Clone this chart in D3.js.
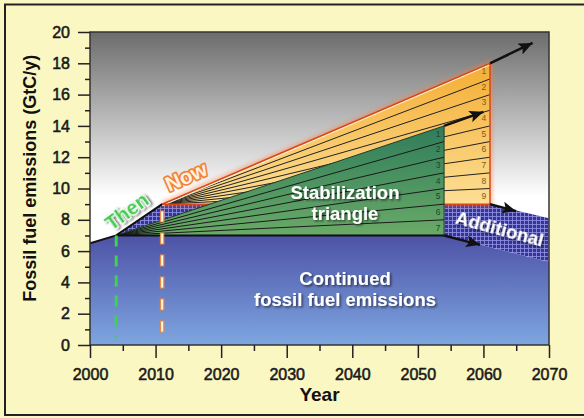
<!DOCTYPE html>
<html>
<head>
<meta charset="utf-8">
<script src="https://cdn.jsdelivr.net/npm/d3@7"></script>
<style>
  body { margin: 0; background: #fbf7c2; }
  svg { display: block; font-family: "Liberation Sans", Arial, Helvetica, sans-serif; }
</style>
</head>
<body>
<div id="chart"></div>
<script>
// values (GtC per year)
const xTicks = [2000, 2010, 2020, 2030, 2040, 2050, 2060, 2070];
const yTicks = [0, 2, 4, 6, 8, 10, 12, 14, 16, 18, 20];
const thenYear = 2004;
const nowYear = 2011;
const history = [[2000, 6.5], [2004, 7.0], [2011, 9.0]];
const continued = [[2004, 7.0], [2054, 7.0], [2070, 5.3]];
const stabilizationTop = [[2004, 7.0], [2054, 14.0]];
const businessAsUsual = [[2011, 9.0], [2061, 18.0]];
const additionalTop = [[2061, 9.0], [2070, 8.1]];
const greenBreaks = [8, 9, 10, 11, 12, 13];          // wedge edges at 2054
const yellowBreaks = [10, 11, 12, 13, 14, 15, 16, 17]; // wedge edges at 2061
const greenLabels = ["1", "2", "3", "4", "5", "6", "7"];
const yellowLabels = ["1", "2", "3", "4", "5", "6", "7", "8", "9"];
const arrows = [
  [[2061, 18.0], [2067.5, 19.3]],
  [[2054, 14.0], [2060, 14.9]],
  [[2061, 9.0], [2065, 8.55]],
  [[2054, 7.0], [2059.5, 6.4]]
];

const W = 584, H = 418;
const margin = { top: 32, right: 35, bottom: 73, left: 90 };

const svg = d3.select('#chart').append('svg')
  .attr('width', W)
  .attr('height', H);

const x = d3.scaleLinear().domain([2000, 2070]).range([margin.left, W - margin.right]);
const y = d3.scaleLinear().domain([0, 20]).range([H - margin.bottom, margin.top]);
const line = d3.line().x(d => x(d[0])).y(d => y(d[1]));

const defs = svg.append('defs');

function vGrad(id, y1, y2, c1, c2) {
  const g = defs.append('linearGradient').attr('id', id)
    .attr('gradientUnits', 'userSpaceOnUse')
    .attr('x1', 0).attr('x2', 0).attr('y1', y1).attr('y2', y2);
  g.append('stop').attr('offset', 0).attr('stop-color', c1);
  g.append('stop').attr('offset', 1).attr('stop-color', c2);
}
vGrad('skyGrad', y(20), y(9.5), '#6c6c6c', '#ffffff');
vGrad('blueGrad', y(7), y(0), '#4d52a6', '#7ea6e1');
vGrad('greenGrad', y(14), y(7), '#2f7c5a', '#6aaa68');
vGrad('yellowGrad', y(18), y(9), '#f4ad33', '#fddf95');

const hatch = defs.append('pattern').attr('id', 'hatch')
  .attr('patternUnits', 'userSpaceOnUse')
  .attr('width', 4).attr('height', 4);
hatch.append('rect').attr('width', 4).attr('height', 4).attr('fill', '#34349a');
hatch.append('path').attr('d', 'M0,0.5H4M0.5,0V4')
  .attr('stroke', '#9494e4').attr('stroke-width', 0.8);

const shadow = defs.append('filter').attr('id', 'shadow')
  .attr('x', '-20%').attr('y', '-20%').attr('width', '140%').attr('height', '160%');
shadow.append('feDropShadow').attr('dx', 1.5).attr('dy', 1.5)
  .attr('stdDeviation', 1).attr('flood-color', '#000').attr('flood-opacity', 0.6);

const glow = defs.append('filter').attr('id', 'glow')
  .attr('x', '-10%').attr('y', '-10%').attr('width', '120%').attr('height', '120%');
glow.append('feGaussianBlur').attr('stdDeviation', 2);

defs.append('marker').attr('id', 'head')
  .attr('markerUnits', 'userSpaceOnUse')
  .attr('viewBox', '0 0 14 12')
  .attr('refX', 14).attr('refY', 6)
  .attr('markerWidth', 14).attr('markerHeight', 12)
  .attr('orient', 'auto')
  .append('path').attr('d', 'M0,0L14,6L0,12L3,6Z').attr('fill', '#111');

// outer frame
svg.append('rect')
  .attr('x', 5).attr('y', 4.5).attr('width', W + 20).attr('height', 410.5)
  .attr('fill', '#fbf7c2').attr('stroke', '#222').attr('stroke-width', 2);

const pw = x(2070) - x(2000), ph = y(0) - y(20);

defs.append('clipPath').attr('id', 'plotClip')
  .append('rect').attr('x', x(2000)).attr('y', y(20)).attr('width', pw).attr('height', ph);

const plot = svg.append('g').attr('clip-path', 'url(#plotClip)');

plot.append('rect')
  .attr('x', x(2000)).attr('y', y(20)).attr('width', pw).attr('height', ph)
  .attr('fill', 'url(#skyGrad)');

// continued fossil fuel emissions
const bluePts = [[2000, 0], history[0], ...continued, [2070, 0]];
plot.append('path').attr('d', line(bluePts) + 'Z').attr('fill', 'url(#blueGrad)');

// hatched "additional" region
const hatchPts = [[thenYear, 7.0], [nowYear, 9.0], additionalTop[0], additionalTop[1],
  continued[2], continued[1]];
plot.append('path').attr('d', line(hatchPts) + 'Z').attr('fill', 'url(#hatch)');

// business-as-usual triangle (yellow wedges)
const yellowTri = [businessAsUsual[0], businessAsUsual[1], [2061, 9.0]];
plot.append('path').attr('d', line(yellowTri) + 'Z')
  .attr('fill', 'none').attr('stroke', '#ff7a3a').attr('stroke-width', 4)
  .attr('opacity', 0.6).attr('filter', 'url(#glow)');
plot.append('path').attr('d', line(yellowTri) + 'Z').attr('fill', 'url(#yellowGrad)');
defs.append('clipPath').attr('id', 'yellowClip')
  .append('path').attr('d', line(yellowTri) + 'Z');
plot.append('g').attr('clip-path', 'url(#yellowClip)')
  .selectAll('path').data(yellowBreaks).enter().append('path')
  .attr('d', d => line([businessAsUsual[0], [2061, d]]))
  .attr('stroke', '#222').attr('stroke-width', 1).attr('fill', 'none');
plot.append('path').attr('d', line(businessAsUsual))
  .attr('transform', 'translate(0,1.5)')
  .attr('stroke', '#fff4d8').attr('stroke-width', 1.2).attr('fill', 'none');
plot.append('path').attr('d', line(yellowTri) + 'Z')
  .attr('fill', 'none').attr('stroke', '#d8461c').attr('stroke-width', 1.5);

// stabilization triangle (green wedges)
const greenTri = [stabilizationTop[0], stabilizationTop[1], continued[1]];
plot.append('path').attr('d', line(greenTri) + 'Z').attr('fill', 'url(#greenGrad)');
defs.append('clipPath').attr('id', 'greenClip')
  .append('path').attr('d', line(greenTri) + 'Z');
plot.append('g').attr('clip-path', 'url(#greenClip)')
  .selectAll('path').data(greenBreaks).enter().append('path')
  .attr('d', d => line([stabilizationTop[0], [2054, d]]))
  .attr('stroke', '#1a1a1a').attr('stroke-width', 1).attr('fill', 'none');
plot.append('path').attr('d', line(greenTri) + 'Z')
  .attr('fill', 'none').attr('stroke', '#1e3a2a').attr('stroke-width', 1);

// wedge numbers
plot.selectAll('.ynum').data(yellowLabels).enter().append('text')
  .attr('class', 'ynum')
  .attr('x', x(2061) - 6)
  .attr('y', (d, i) => y(17.5 - i))
  .attr('dy', '0.35em').attr('text-anchor', 'middle')
  .attr('font-size', 8.5).attr('fill', '#7a5a24')
  .text(d => d);
plot.selectAll('.gnum').data(greenLabels).enter().append('text')
  .attr('class', 'gnum')
  .attr('x', x(2054) - 6)
  .attr('y', (d, i) => y(13.5 - i))
  .attr('dy', '0.35em').attr('text-anchor', 'middle')
  .attr('font-size', 8.5).attr('fill', '#1c4630')
  .text(d => d);

// boundary lines
plot.append('path').attr('d', line(history))
  .attr('stroke', '#111').attr('stroke-width', 2).attr('fill', 'none');
plot.append('path').attr('d', line(continued.slice(0, 2)))
  .attr('stroke', '#111').attr('stroke-width', 2).attr('fill', 'none');

// arrows
plot.selectAll('.arrow').data(arrows).enter().append('path')
  .attr('class', 'arrow')
  .attr('d', d => line(d))
  .attr('stroke', '#111').attr('stroke-width', 2.5).attr('fill', 'none')
  .attr('marker-end', 'url(#head)');

// then / now markers
plot.append('line')
  .attr('x1', x(thenYear)).attr('x2', x(thenYear))
  .attr('y1', y(7.0)).attr('y2', y(0.5))
  .attr('stroke', '#3fd24e').attr('stroke-width', 3)
  .attr('stroke-dasharray', '11,9');
plot.append('line')
  .attr('x1', x(nowYear)).attr('x2', x(nowYear))
  .attr('y1', y(8.6)).attr('y2', y(0.5))
  .attr('stroke', '#f08a3c').attr('stroke-width', 4.5)
  .attr('stroke-dasharray', '12,10');
plot.append('line')
  .attr('x1', x(nowYear)).attr('x2', x(nowYear))
  .attr('y1', y(8.6) + 1).attr('y2', y(0.5) - 1)
  .attr('stroke', '#fff8ee').attr('stroke-width', 2)
  .attr('stroke-dasharray', '10,12');

// plot frame
svg.append('rect')
  .attr('x', x(2000)).attr('y', y(20)).attr('width', pw).attr('height', ph)
  .attr('fill', 'none').attr('stroke', '#333').attr('stroke-width', 1.5);

// axes
svg.append('g')
  .attr('transform', `translate(${x(2000)},0)`)
  .call(d3.axisLeft(y).tickValues(yTicks).tickSize(12).tickPadding(8));
svg.append('g')
  .attr('transform', `translate(${x(2000)},0)`)
  .call(d3.axisLeft(y).tickValues(d3.range(1, 20, 2)).tickSize(5).tickFormat(''));
svg.append('g')
  .attr('transform', `translate(0,${y(0)})`)
  .call(d3.axisBottom(x).tickValues(xTicks).tickSize(13).tickPadding(11).tickFormat(d3.format('d')));
svg.append('g')
  .attr('transform', `translate(0,${y(0)})`)
  .call(d3.axisBottom(x).tickValues(d3.range(2005, 2070, 10)).tickSize(6).tickFormat(''));

svg.selectAll('.domain').remove();
svg.selectAll('.tick line').attr('stroke', '#222').attr('stroke-width', 1.5);
svg.selectAll('.tick text')
  .attr('font-family', '"Liberation Sans", Arial, sans-serif')
  .attr('font-size', 16).attr('fill', '#1a1a1a')
  .attr('stroke', '#1a1a1a').attr('stroke-width', 0.55);

// axis titles
svg.append('text')
  .attr('x', (x(2000) + x(2070)) / 2).attr('y', 401)
  .attr('text-anchor', 'middle')
  .attr('font-size', 19).attr('font-weight', 'bold').attr('fill', '#111')
  .text('Year');
svg.append('text')
  .attr('transform', `translate(36,${y(10.65)}) rotate(-90)`)
  .attr('text-anchor', 'middle')
  .attr('font-size', 18).attr('font-weight', 'bold').attr('fill', '#111')
  .text('Fossil fuel emissions (GtC/y)');

// region labels
function whiteLabel(lines, cx, baselines, size) {
  svg.append('g').attr('filter', 'url(#shadow)')
    .selectAll('text').data(lines).enter().append('text')
    .attr('x', cx).attr('y', (d, i) => baselines[i])
    .attr('text-anchor', 'middle')
    .attr('font-size', size).attr('font-weight', 'bold').attr('fill', '#fff')
    .text(d => d);
}
whiteLabel(['Stabilization', 'triangle'], 345, [199, 220], 18.5);
whiteLabel(['Continued', 'fossil fuel emissions'], 345, [285, 306], 18.5);

svg.append('text')
  .attr('transform', 'translate(498,235) rotate(15)')
  .attr('text-anchor', 'middle')
  .attr('font-size', 18.5).attr('font-weight', 'bold').attr('fill', '#fff')
  .attr('filter', 'url(#shadow)')
  .text('Additional');

svg.append('text')
  .attr('transform', 'translate(131,217) rotate(-36)')
  .attr('text-anchor', 'middle')
  .attr('font-size', 20).attr('font-weight', 'bold')
  .attr('fill', '#3fcb4f').attr('stroke', '#f4fff4').attr('stroke-width', 2.5)
  .attr('paint-order', 'stroke').attr('stroke-linejoin', 'round')
  .attr('filter', 'url(#shadow)')
  .text('Then');

svg.append('text')
  .attr('transform', 'translate(189,183) rotate(-24)')
  .attr('text-anchor', 'middle')
  .attr('font-size', 20.5).attr('font-weight', 'bold')
  .attr('fill', '#fff0dc').attr('stroke', '#f0843a').attr('stroke-width', 3.5)
  .attr('paint-order', 'stroke').attr('stroke-linejoin', 'round')
  .text('Now');
</script>
</body>
</html>
